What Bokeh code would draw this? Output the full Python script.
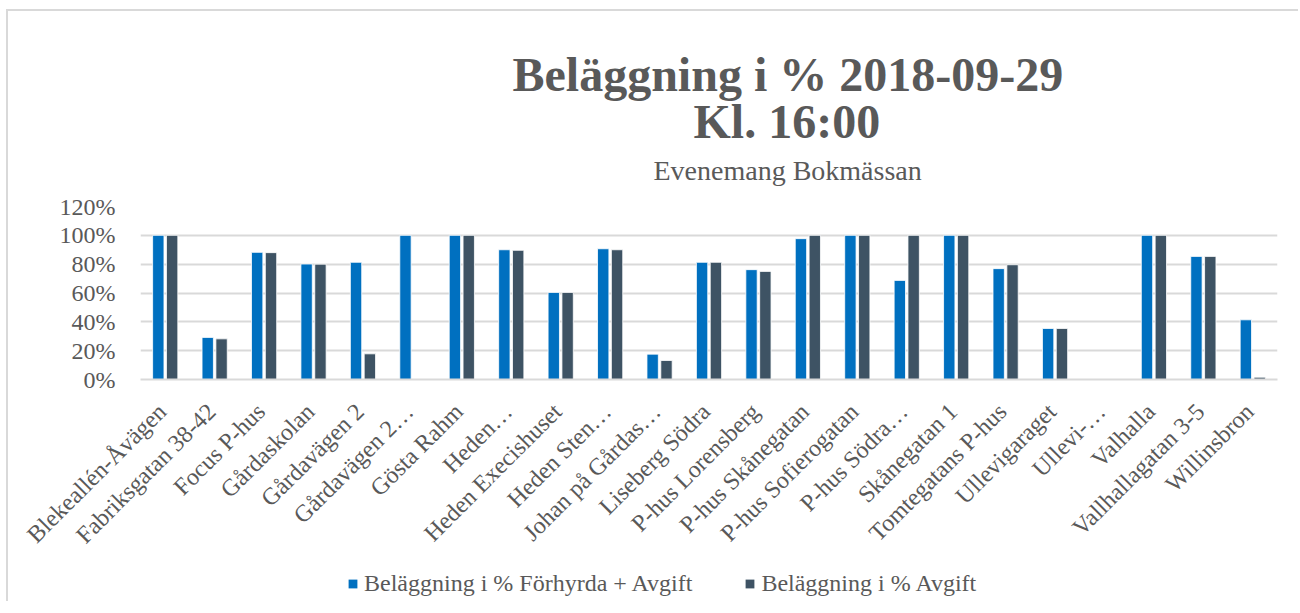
from bokeh.plotting import figure
from bokeh.models import (ColumnDataSource, Range1d, NumeralTickFormatter,
                          Title, Legend, LegendItem, FixedTicker)
from bokeh.layouts import column
from bokeh.transform import dodge
from bokeh.embed import file_html
from bokeh.resources import INLINE
import math

categories = ["Blekeallén-Åvägen", "Fabriksgatan 38-42", "Focus P-hus", "Gårdaskolan",
              "Gårdavägen 2", "Gårdavägen 2…", "Gösta Rahm", "Heden…", "Heden Execishuset",
              "Heden Sten…", "Johan på Gårdas…", "Liseberg Södra", "P-hus Lorensberg",
              "P-hus Skånegatan", "P-hus Sofierogatan", "P-hus Södra…", "Skånegatan 1",
              "Tomtegatans P-hus", "Ullevigaraget", "Ullevi-…", "Valhalla",
              "Vallhallagatan 3-5", "Willinsbron"]
forhyrda_avgift = [1.00, 0.292, 0.882, 0.801, 0.813, 1.00, 1.00, 0.90, 0.604,
                   0.907, 0.176, 0.813, 0.762, 0.977, 1.00, 0.6875, 1.00,
                   0.769, 0.354, 0.0, 1.00, 0.854, 0.414]
avgift = [1.00, 0.282, 0.88, 0.80, 0.178, 0.0, 1.00, 0.896, 0.604,
          0.90, 0.132, 0.813, 0.75, 1.00, 1.00, 1.00, 1.00,
          0.796, 0.354, 0.0, 1.00, 0.854, 0.016]
series_names = ["Beläggning i % Förhyrda + Avgift", "Beläggning i % Avgift"]
title_lines = ["Beläggning i % 2018-09-29", "Kl. 16:00"]
subtitle = "Evenemang Bokmässan"
y_ticks = [0, 0.2, 0.4, 0.6, 0.8, 1.0, 1.2]

BLUE = "#0070C0"
DARK = "#3E5364"
TXT = "#595959"
GRID = "#D9D9D9"
FONT = "Liberation Serif"

n = len(categories)
idx = list(range(n))
src = ColumnDataSource(dict(idx=idx, cat=categories, a=forhyrda_avgift, b=avgift))

p = figure(width=1290, height=553, title=None,
           x_range=Range1d(-0.5, n - 0.5), y_range=Range1d(0, 1.2),
           output_backend="svg", toolbar_location=None,
           min_border_left=132, min_border_right=21, min_border_top=195, min_border_bottom=185)
p.outline_line_color = None
p.background_fill_color = "white"
p.border_fill_color = "white"

r1 = p.vbar(x=dodge("idx", -0.14), top="a", width=0.23, source=src,
            fill_color=BLUE, line_color="white", line_width=0.8)
r2 = p.vbar(x=dodge("idx", 0.14), top="b", width=0.23, source=src,
            fill_color=DARK, line_color="white", line_width=0.8)

# y axis
p.yaxis.ticker = FixedTicker(ticks=y_ticks)
p.yaxis.formatter = NumeralTickFormatter(format="0%")
p.yaxis.axis_line_color = None
p.yaxis.major_tick_line_color = None
p.yaxis.minor_tick_line_color = None
p.yaxis.major_label_standoff = 19
p.yaxis.major_label_text_font = FONT
p.yaxis.major_label_text_font_size = "24px"
p.yaxis.major_label_text_color = TXT

# x axis: category names placed like Excel's rotated labels
shift = -0.0625
tick_pos = [i + shift for i in idx]
p.xaxis.ticker = FixedTicker(ticks=tick_pos)
p.xaxis.major_label_overrides = {t: c for t, c in zip(tick_pos, categories)}
p.xaxis.axis_line_color = GRID
p.xaxis.axis_line_width = 2
p.xaxis.major_tick_line_color = None
p.xaxis.minor_tick_line_color = None
p.xaxis.major_label_orientation = math.pi / 4
p.xaxis.major_label_standoff = 22
p.xaxis.major_label_text_font = FONT
p.xaxis.major_label_text_font_size = "24px"
p.xaxis.major_label_text_color = TXT

p.xgrid.grid_line_color = None
p.ygrid.grid_line_color = GRID
p.ygrid.grid_line_width = 2

# titles (first added sits closest to the plot)
p.add_layout(Title(text=subtitle, align="left", offset=513, standoff=41,
                   text_font=FONT, text_font_size="28px", text_font_style="normal",
                   text_color=TXT), "above")
p.add_layout(Title(text=title_lines[1], align="left", offset=553, standoff=-30,
                   text_font=FONT, text_font_size="48px", text_font_style="bold",
                   text_color=TXT), "above")
p.add_layout(Title(text=title_lines[0], align="left", offset=372, standoff=14,
                   text_font=FONT, text_font_size="48px", text_font_style="bold",
                   text_color=TXT), "above")

# legend strip (zero-height swatch bars outside the visible range carry the legend colours)
pl = figure(width=1290, height=37, title=None, x_range=Range1d(0, 1), y_range=Range1d(0, 1),
            x_axis_type=None, y_axis_type=None, output_backend="svg", toolbar_location=None,
            min_border=0)
pl.outline_line_color = None
pl.xgrid.grid_line_color = None
pl.ygrid.grid_line_color = None
swatch = ColumnDataSource(dict(x=[-5.0], top=[0.0]))
lr1 = pl.vbar(x="x", top="top", width=0.1, source=swatch, fill_color=BLUE, line_color=None)
lr2 = pl.vbar(x="x", top="top", width=0.1, source=swatch, fill_color=DARK, line_color=None)
legend = Legend(items=[LegendItem(label=series_names[0], renderers=[lr1]),
                       LegendItem(label=series_names[1], renderers=[lr2])],
                orientation="horizontal", location=(207, 4),
                label_text_font=FONT, label_text_font_size="24px", label_text_color=TXT,
                glyph_width=11, glyph_height=11, spacing=52, padding=0, margin=0,
                label_standoff=6, border_line_color=None, background_fill_alpha=0)
pl.add_layout(legend, "center")

layout = column(p, pl, spacing=0)
layout.styles = {"border-top": "2px solid #d9d9d9", "border-left": "2px solid #d9d9d9",
                 "margin-left": "6px", "margin-top": "9px"}

open("out.html", "w").write(file_html(layout, INLINE))
